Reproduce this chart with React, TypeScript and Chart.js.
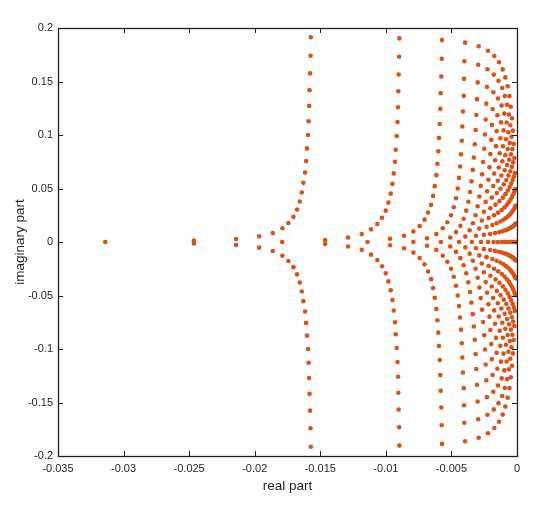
import React, { useEffect, useRef } from "react";
import { Chart, registerables } from "chart.js";

Chart.register(...registerables);

// Eigenvalues. Each column lists conjugate pairs [re, im] (drawn as re ± i·im).
const colA: [number, number][] = [
  [-0.01572, 0.1914], [-0.01574, 0.1741], [-0.01578, 0.1576], [-0.01582, 0.1419], [-0.01585, 0.1272],
  [-0.01589, 0.1128], [-0.01593, 0.1], [-0.01601, 0.0875], [-0.01608, 0.0756], [-0.01616, 0.065],
  [-0.01629, 0.0553], [-0.01641, 0.0462], [-0.01656, 0.0378], [-0.01677, 0.0303], [-0.01705, 0.0235],
  [-0.01743, 0.0178], [-0.01789, 0.0128], [-0.01862, 0.0084], [-0.01966, 0.0053], [-0.02142, 0.0028],
  [-0.02464, 0.0013],
];
const colB: [number, number][] = [
  [-0.00897, 0.1903], [-0.00899, 0.1731], [-0.00902, 0.1566], [-0.00905, 0.1409], [-0.00907, 0.1259],
  [-0.00911, 0.1121], [-0.00917, 0.099], [-0.00925, 0.0862], [-0.0093, 0.075], [-0.0094, 0.0641],
  [-0.0095, 0.0543], [-0.00963, 0.0452], [-0.00981, 0.0368], [-0.01001, 0.0293], [-0.01029, 0.0227],
  [-0.01065, 0.0168], [-0.01113, 0.0118], [-0.01184, 0.0074], [-0.01288, 0.0042], [-0.01463, 0.0019],
];
const colC: [number, number][] = [
  [-0.00572, 0.1887], [-0.00574, 0.1713], [-0.00577, 0.1547], [-0.00582, 0.1391], [-0.00585, 0.1244],
  [-0.00589, 0.1103], [-0.00595, 0.0972], [-0.006, 0.0847], [-0.00607, 0.0732], [-0.00615, 0.0625],
  [-0.00627, 0.0522], [-0.0064, 0.0431], [-0.00655, 0.0347], [-0.00678, 0.0275], [-0.00705, 0.0209],
  [-0.00742, 0.015], [-0.0079, 0.0099], [-0.00861, 0.0059], [-0.00968, 0.0031],
];
const colD: [number, number][] = [
  [-0.00396, 0.1863], [-0.00402, 0.1689], [-0.00404, 0.1525], [-0.00406, 0.1366], [-0.00412, 0.122],
  [-0.00417, 0.1079], [-0.00421, 0.0946], [-0.00427, 0.0819], [-0.00434, 0.0706], [-0.00442, 0.0599],
  [-0.00452, 0.05], [-0.00465, 0.0409], [-0.00482, 0.0325], [-0.00503, 0.025], [-0.00531, 0.0184],
  [-0.00566, 0.0128], [-0.00615, 0.0074], [-0.00686, 0.0035],
];
const colE: [number, number][] = [
  [-0.00509, 0.00422], [-0.00465, 0.00926], [-0.00432, 0.01511], [-0.00407, 0.02178], [-0.00387, 0.02928],
  [-0.00371, 0.03758], [-0.00358, 0.04671], [-0.00347, 0.05666], [-0.00337, 0.06742], [-0.00329, 0.079],
  [-0.00322, 0.0914], [-0.00315, 0.10462], [-0.0031, 0.11865], [-0.00305, 0.1335], [-0.003, 0.14918],
  [-0.00296, 0.16566], [-0.00292, 0.18297],
];
const colF: [number, number][] = [
  [-0.00394, 0.00504], [-0.00361, 0.0109], [-0.00336, 0.01757], [-0.00316, 0.02506], [-0.003, 0.03338],
  [-0.00287, 0.0425], [-0.00276, 0.05245], [-0.00266, 0.06322], [-0.00258, 0.0748], [-0.0025, 0.0872],
  [-0.00244, 0.10042], [-0.00239, 0.11446], [-0.00234, 0.12931], [-0.00229, 0.14498], [-0.00225, 0.16148],
  [-0.00221, 0.17878],
];
const colG: [number, number][] = [
  [-0.00313, 0.00586], [-0.00288, 0.01254], [-0.00268, 0.02003], [-0.00252, 0.02834], [-0.00239, 0.03748],
  [-0.00228, 0.04742], [-0.00218, 0.05819], [-0.0021, 0.06978], [-0.00203, 0.08218], [-0.00196, 0.0954],
  [-0.00191, 0.10944], [-0.00186, 0.1243], [-0.00181, 0.13997], [-0.00177, 0.15646], [-0.00173, 0.17378],
];
const colH: [number, number][] = [
  [-0.00252, 0.00668], [-0.00232, 0.01418], [-0.00216, 0.02249], [-0.00203, 0.03162], [-0.00192, 0.04158],
  [-0.00182, 0.05234], [-0.00174, 0.06393], [-0.00167, 0.07634], [-0.0016, 0.08956], [-0.00155, 0.1036],
  [-0.0015, 0.11846], [-0.00145, 0.13414], [-0.00141, 0.15063], [-0.00137, 0.16794],
];
const colI: [number, number][] = [
  [-0.00204, 0.0075], [-0.00188, 0.01582], [-0.00175, 0.02495], [-0.00164, 0.0349], [-0.00154, 0.04568],
  [-0.00146, 0.05726], [-0.00139, 0.06967], [-0.00132, 0.0829], [-0.00127, 0.09694], [-0.00122, 0.1118],
  [-0.00117, 0.12748], [-0.00113, 0.14398], [-0.00109, 0.16129],
];
const colJ: [number, number][] = [
  [-0.00168, 0.00832], [-0.00155, 0.01746], [-0.00144, 0.02741], [-0.00134, 0.03818], [-0.00126, 0.04978],
  [-0.00119, 0.06218], [-0.00112, 0.07541], [-0.00107, 0.08946], [-0.00102, 0.10432], [-0.00097, 0.12],
  [-0.00093, 0.1365], [-0.00089, 0.15382],
];
const colK: [number, number][] = [
  [-0.00137, 0.00914], [-0.00126, 0.0191], [-0.00116, 0.02987], [-0.00108, 0.04146], [-0.00101, 0.05388],
  [-0.00094, 0.0671], [-0.00089, 0.08115], [-0.00084, 0.09602], [-0.00079, 0.1117], [-0.00075, 0.1282],
  [-0.00071, 0.14552],
];
const colL: [number, number][] = [
  [-0.00113, 0.00996], [-0.00103, 0.02074], [-0.00095, 0.03233], [-0.00088, 0.04474], [-0.00081, 0.05798],
  [-0.00076, 0.07202], [-0.00071, 0.08689], [-0.00066, 0.10258], [-0.00062, 0.11908], [-0.00058, 0.1364],
];
const colM: [number, number][] = [
  [-0.00092, 0.01078], [-0.00084, 0.02238], [-0.00077, 0.03479], [-0.0007, 0.04802], [-0.00065, 0.06208],
  [-0.0006, 0.07694], [-0.00055, 0.09263], [-0.00051, 0.10914], [-0.00047, 0.12646],
];
const colN: [number, number][] = [
  [-0.00075, 0.0116], [-0.00068, 0.02402], [-0.00061, 0.03725], [-0.00056, 0.0513], [-0.00051, 0.06618],
  [-0.00046, 0.08186], [-0.00042, 0.09837], [-0.00038, 0.1157],
];
const colO: [number, number][] = [
  [-0.00061, 0.01242], [-0.00054, 0.02566], [-0.00049, 0.03971], [-0.00044, 0.05458], [-0.00039, 0.07028],
  [-0.00035, 0.08678], [-0.00031, 0.10411],
];
const colP: [number, number][] = [
  [-0.00048, 0.01324], [-0.00043, 0.0273], [-0.00038, 0.04217], [-0.00033, 0.05786], [-0.00029, 0.07438],
  [-0.00025, 0.0917],
];
const colQ: [number, number][] = [
  [-0.00038, 0.01406], [-0.00033, 0.02894], [-0.00028, 0.04463], [-0.00024, 0.06114], [-0.0002, 0.07848],
];
const colR: [number, number][] = [
  [-0.00029, 0.01488], [-0.00024, 0.03058], [-0.0002, 0.04709], [-0.00016, 0.06442],
];
const colS: [number, number][] = [[-0.00021, 0.0157], [-0.00017, 0.03222], [-0.00013, 0.04955]];
const colT: [number, number][] = [[-0.00015, 0.01652], [-0.00011, 0.03386]];
const colU: [number, number][] = [[-0.00009, 0.01734]];

// Purely real eigenvalues (on the horizontal axis)
const realEigs: number[] = [
  -0.0314, -0.0179, -0.0114, -0.0079, -0.0058, -0.00442, -0.00344, -0.00274, -0.00221, -0.00179,
  -0.00147, -0.00119, -0.00097, -0.00079, -0.00063, -0.0005, -0.00039, -0.0003, -0.00021, -0.00015,
  -0.00011, -0.00008,
];

const pairColumns = [
  colA, colB, colC, colD, colE, colF, colG, colH, colI, colJ, colK,
  colL, colM, colN, colO, colP, colQ, colR, colS, colT, colU,
];

const xTicks = [-0.035, -0.03, -0.025, -0.02, -0.015, -0.01, -0.005, 0];
const yTicks = [-0.2, -0.15, -0.1, -0.05, 0, 0.05, 0.1, 0.15, 0.2];

const AXIS_COLOR = "#1f1f1f";
const MARK_COLOR = "#D95319";
const FONT = "'Liberation Sans', Arial, Helvetica, sans-serif";

function fmt(v: number): string {
  const r = Math.round(v * 1000) / 1000;
  return r === 0 ? "0" : String(r);
}

const framePlugin = {
  id: "matlabFrame",
  afterDraw(chart: any) {
    const { ctx, chartArea: a, scales } = chart;
    const len = 5;
    ctx.save();
    ctx.strokeStyle = AXIS_COLOR;
    ctx.lineWidth = 1;
    ctx.beginPath();
    for (const v of xTicks) {
      const px = Math.round(scales.x.getPixelForValue(v)) + 0.5;
      ctx.moveTo(px, a.bottom);
      ctx.lineTo(px, a.bottom - len);
      ctx.moveTo(px, a.top);
      ctx.lineTo(px, a.top + len);
    }
    for (const v of yTicks) {
      const py = Math.round(scales.y.getPixelForValue(v)) + 0.5;
      ctx.moveTo(a.left, py);
      ctx.lineTo(a.left + len, py);
      ctx.moveTo(a.right, py);
      ctx.lineTo(a.right - len, py);
    }
    ctx.stroke();
    ctx.lineWidth = 1.3;
    ctx.strokeRect(Math.round(a.left) + 0.5, Math.round(a.top) + 0.5, Math.round(a.right - a.left), Math.round(a.bottom - a.top));
    ctx.restore();
  },
};

export default function App() {
  const canvasRef = useRef<HTMLCanvasElement | null>(null);

  useEffect(() => {
    const canvas = canvasRef.current;
    if (!canvas) return;
    const points: { x: number; y: number }[] = [];
    for (const col of pairColumns) {
      for (const [re, im] of col) {
        points.push({ x: re, y: im });
        points.push({ x: re, y: -im });
      }
    }
    for (const r of realEigs) points.push({ x: r, y: 0 });

    const chart = new Chart(canvas, {
      type: "scatter",
      data: {
        datasets: [
          {
            data: points,
            backgroundColor: MARK_COLOR,
            borderWidth: 0,
            pointRadius: 2.3,
            pointHoverRadius: 2.3,
            pointBorderWidth: 0,
          },
        ],
      },
      options: {
        responsive: false,
        animation: false,
        devicePixelRatio: 1,
        events: [],
        layout: { padding: { top: 28, right: 28, left: 0, bottom: 0 } },
        plugins: { legend: { display: false }, tooltip: { enabled: false } },
        scales: {
          x: {
            type: "linear",
            position: "bottom",
            min: -0.035,
            max: 0,
            afterBuildTicks: (s: any) => {
              s.ticks = xTicks.map((v) => ({ value: v }));
            },
            afterFit: (s: any) => {
              s.height = 51;
            },
            ticks: {
              autoSkip: false,
              maxRotation: 0,
              padding: 6,
              color: AXIS_COLOR,
              font: { family: FONT, size: 11 },
              callback: (v: any) => fmt(Number(v)),
            },
            grid: { display: false, drawTicks: false },
            border: { display: false },
            title: {
              display: true,
              text: "real part",
              color: AXIS_COLOR,
              font: { family: FONT, size: 13.5 },
              padding: { top: 0, bottom: 13 },
            },
          },
          y: {
            type: "linear",
            position: "left",
            min: -0.2,
            max: 0.2,
            afterBuildTicks: (s: any) => {
              s.ticks = yTicks.map((v) => ({ value: v }));
            },
            afterFit: (s: any) => {
              s.width = 58;
            },
            ticks: {
              autoSkip: false,
              padding: 5,
              color: AXIS_COLOR,
              font: { family: FONT, size: 11 },
              callback: (v: any) => fmt(Number(v)),
            },
            grid: { display: false, drawTicks: false },
            border: { display: false },
            title: {
              display: true,
              text: "imaginary part",
              color: AXIS_COLOR,
              font: { family: FONT, size: 13.5 },
              padding: { top: 12, bottom: 0 },
            },
          },
        },
      },
      plugins: [framePlugin],
    });

    return () => chart.destroy();
  }, []);

  return (
    <div style={{ position: "fixed", left: 0, top: 0, width: 545, height: 507, background: "#ffffff" }}>
      <canvas ref={canvasRef} width={545} height={507} style={{ width: 545, height: 507, display: "block" }} />
    </div>
  );
}
